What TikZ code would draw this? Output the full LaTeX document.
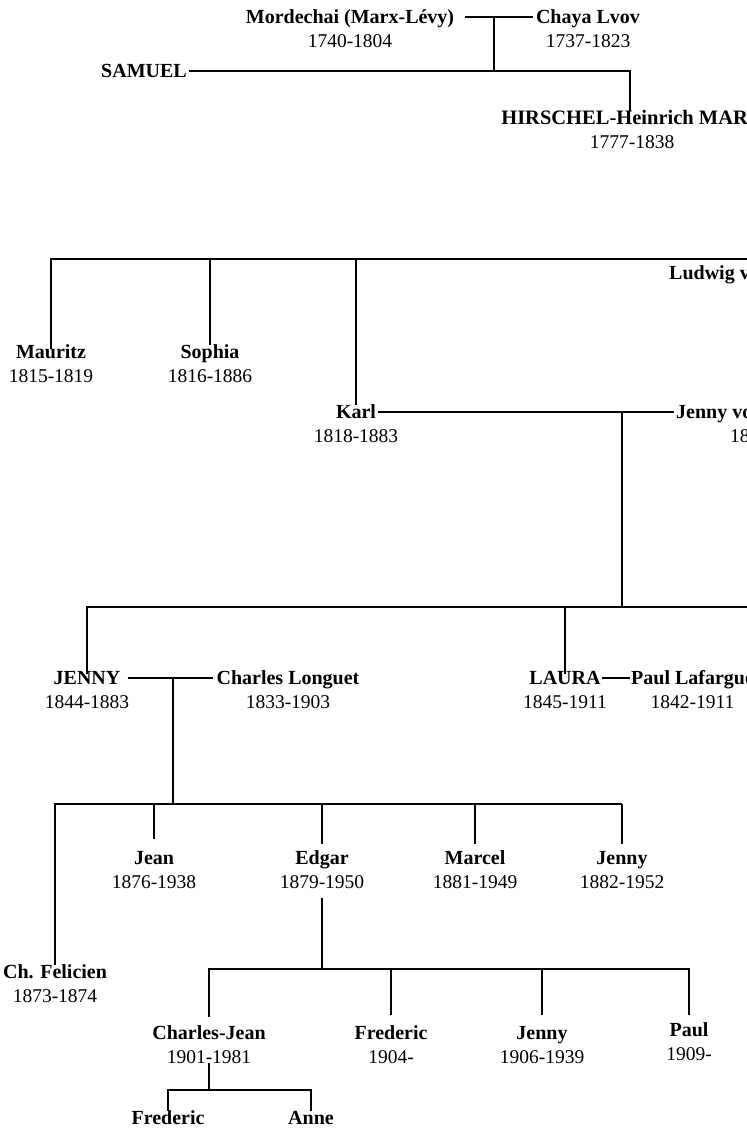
\documentclass[tikz,border=0pt]{standalone}
\usepackage{fontspec}
\setmainfont{Liberation Serif}
\usetikzlibrary{positioning}

\begin{document}
\begin{tikzpicture}[x=1pt, y=-1pt,
        who/.style={inner sep=0, text height=13.5pt, text depth=0pt, font=\fontsize{20}{24}\selectfont\bfseries},
        yrs/.style={inner sep=0, text height=13.5pt, text depth=0pt, font=\fontsize{19.5}{23}\selectfont, below=9.5pt of #1},
        famline/.style={line width=1.4pt}]
        \useasboundingbox (0,0) rectangle (747,1128);
        \clip (0,0) rectangle (747,1128);
        % Persons, marriages and descent lines:
        \node[who] (mordechai) at (350,17) {Mordechai (Marx-Lévy)};
        \node[yrs=mordechai] (mordechai-d) {1740-1804};
        \node[who] (chaya) at (588,17) {Chaya Lvov};
        \node[yrs=chaya] (chaya-d) {1737-1823};
        \node[who] (samuel) at (144,71) {SAMUEL};
        \node[who, font=\fontsize{20.5}{24}\selectfont\bfseries] (hirschel) at (632,118) {HIRSCHEL-Heinrich MARX};
        \node[yrs=hirschel] (hirschel-d) {1777-1838};
        \coordinate (mc) at (494,17);
        \draw[famline] ([xshift=11pt]mordechai.east) -- ([xshift=-3pt]chaya.west);
        \draw[famline] (mc) -- (mc |- samuel.east);
        \draw[famline] ([xshift=2pt]samuel.east) -| ([xshift=-2pt]hirschel.north);
        \coordinate (sib) at (760,259);
        \node[who] (mauritz) at (51,352) {Mauritz};
        \node[yrs=mauritz] (mauritz-d) {1815-1819};
        \node[who] (sophia) at (210,352) {Sophia};
        \node[yrs=sophia] (sophia-d) {1816-1886};
        \node[who] (karl) at (356,412) {Karl};
        \node[yrs=karl] (karl-d) {1818-1883};
        \node[who, anchor=west] (ludwig) at (669,273) {Ludwig von Westphalen};
        \node[who, anchor=west] (jennyvw) at (676,412) {Jenny von Westphalen};
        \node[yrs=jennyvw] (jennyvw-d) {1814-1881};
        \draw[famline] ([yshift=-4pt]mauritz.north) |- (sib);
        \draw[famline] (sophia.north) -- (sophia.north |- sib);
        \draw[famline] (karl.north) -- (karl.north |- sib);
        \coordinate (kj) at (622,412);
        \draw[famline] ([xshift=2pt]karl.east) -- ([xshift=-2pt]jennyvw.west);
        \coordinate (kids) at (760,607);
        \draw[famline] (kj) -- (kj |- kids);
        \node[who] (jenny) at (87,678) {JENNY};
        \node[yrs=jenny] (jenny-d) {1844-1883};
        \node[who] (longuet) at (288,678) {Charles Longuet};
        \node[yrs=longuet] (longuet-d) {1833-1903};
        \node[who] (laura) at (565,678) {LAURA};
        \node[yrs=laura] (laura-d) {1845-1911};
        \node[who, anchor=west] (lafargue) at (631,678) {Paul Lafargue};
        \node[yrs=lafargue] (lafargue-d) {1842-1911};
        \draw[famline] ([yshift=-3pt]jenny.north) |- (kids);
        \draw[famline] ([yshift=-3pt]laura.north) -- (laura.north |- kids);
        \draw[famline] ([xshift=7pt]jenny.east) -- ([xshift=-3pt]longuet.west);
        \draw[famline] ([xshift=1pt]laura.east) -- ([xshift=-1pt]lafargue.west);
        \coordinate (jl) at (173,678);
        \coordinate (gkids) at (0,804);
        \node[who] (felicien) at (55,972) {Ch. Felicien};
        \node[yrs=felicien] (felicien-d) {1873-1874};
        \node[who] (jean) at (154,858) {Jean};
        \node[yrs=jean] (jean-d) {1876-1938};
        \node[who] (edgar) at (322,858) {Edgar};
        \node[yrs=edgar] (edgar-d) {1879-1950};
        \node[who] (marcel) at (475,858) {Marcel};
        \node[yrs=marcel] (marcel-d) {1881-1949};
        \node[who] (jennyjr) at (622,858) {Jenny};
        \node[yrs=jennyjr] (jennyjr-d) {1882-1952};
        \draw[famline] (jl) -- (jl |- gkids);
        \draw[famline] (felicien.north) |- (gkids -| jennyjr.north);
        \draw[famline, shorten <=7pt] (jennyjr.north) -- (jennyjr.north |- gkids);
        \draw[famline, shorten <=7pt] (marcel.north) -- (marcel.north |- gkids);
        \draw[famline, shorten <=7pt] (edgar.north) -- (edgar.north |- gkids);
        \draw[famline, shorten <=12pt] (jean.north) -- (jean.north |- gkids);
        \coordinate (ekids) at (0,969);
        \node[who] (cj) at (209,1033) {Charles-Jean};
        \node[yrs=cj] (cj-d) {1901-1981};
        \node[who] (fred) at (391,1033) {Frederic};
        \node[yrs=fred] (fred-d) {1904-};
        \node[who] (jennie) at (542,1033) {Jenny};
        \node[yrs=jennie] (jennie-d) {1906-1939};
        \node[who] (paul) at (689,1030) {Paul};
        \node[yrs=paul] (paul-d) {1909-};
        \draw[famline] ([yshift=-10pt]edgar-d.south) -- (edgar-d.south |- ekids);
        \draw[famline, shorten <=9pt, shorten >=8pt] (cj.north) |- (ekids -| paul.north) -- (paul.north);
        \draw[famline, shorten <=11pt] (fred.north) -- (fred.north |- ekids);
        \draw[famline, shorten <=11pt] (jennie.north) -- (jennie.north |- ekids);
        \coordinate (cjkids) at (0,1090);
        \node[who] (fred2) at (168,1118) {Frederic};
        \node[who] (anne) at (311,1118) {Anne};
        \draw[famline] (cj-d.south) -- (cj-d.south |- cjkids);
        \draw[famline] (fred2.north) |- (cjkids -| anne.north) -- (anne.north);
      \end{tikzpicture}
\end{document}
